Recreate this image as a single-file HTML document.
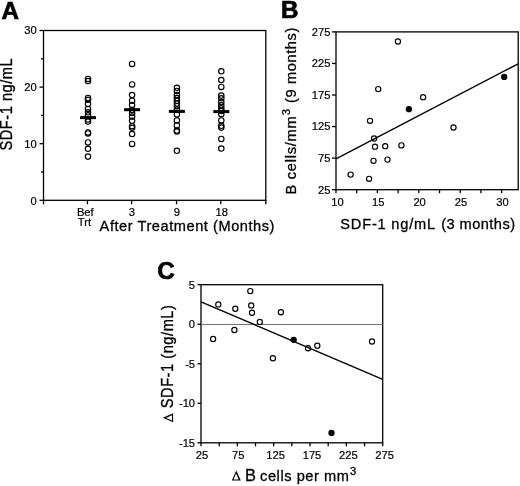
<!DOCTYPE html>
<html><head><meta charset="utf-8"><style>
html,body{margin:0;padding:0;background:#fff;}
svg{display:block;filter:grayscale(1);}
text{font-family:"Liberation Sans",sans-serif;fill:#000;stroke:#000;stroke-width:0.3px;}
text.t{stroke-width:0.2px;}
text.L{stroke-width:0.7px;}
</style></head><body>
<svg width="520" height="486" viewBox="0 0 520 486">
<rect width="520" height="486" fill="#fff"/>
<rect x="43.5" y="30.5" width="222.30" height="169.80" fill="none" stroke="#000" stroke-width="1.3"/>
<line x1="39.50" y1="200.30" x2="43.50" y2="200.30" stroke="#000" stroke-width="1.3"/>
<text class="t" x="36.80" y="204.60" font-size="11.2" text-anchor="end" font-weight="normal" >0</text>
<line x1="39.50" y1="143.70" x2="43.50" y2="143.70" stroke="#000" stroke-width="1.3"/>
<text class="t" x="36.80" y="147.60" font-size="11.2" text-anchor="end" font-weight="normal" >10</text>
<line x1="39.50" y1="87.10" x2="43.50" y2="87.10" stroke="#000" stroke-width="1.3"/>
<text class="t" x="36.80" y="91.00" font-size="11.2" text-anchor="end" font-weight="normal" >20</text>
<line x1="39.50" y1="30.50" x2="43.50" y2="30.50" stroke="#000" stroke-width="1.3"/>
<text class="t" x="36.80" y="34.40" font-size="11.2" text-anchor="end" font-weight="normal" >30</text>
<line x1="41.00" y1="172.00" x2="43.50" y2="172.00" stroke="#000" stroke-width="1.3"/>
<line x1="41.00" y1="115.40" x2="43.50" y2="115.40" stroke="#000" stroke-width="1.3"/>
<line x1="41.00" y1="58.80" x2="43.50" y2="58.80" stroke="#000" stroke-width="1.3"/>
<line x1="43.50" y1="200.30" x2="43.50" y2="204.30" stroke="#000" stroke-width="1.3"/>
<line x1="87.45" y1="200.30" x2="87.45" y2="204.30" stroke="#000" stroke-width="1.3"/>
<line x1="131.60" y1="200.30" x2="131.60" y2="204.30" stroke="#000" stroke-width="1.3"/>
<line x1="176.55" y1="200.30" x2="176.55" y2="204.30" stroke="#000" stroke-width="1.3"/>
<line x1="220.80" y1="200.30" x2="220.80" y2="204.30" stroke="#000" stroke-width="1.3"/>
<line x1="265.80" y1="200.30" x2="265.80" y2="204.30" stroke="#000" stroke-width="1.3"/>
<text class="t" x="76.90" y="216.10" font-size="11.2" text-anchor="start" font-weight="normal" >Bef</text>
<text class="t" x="77.80" y="225.70" font-size="11.2" text-anchor="start" font-weight="normal" >Trt</text>
<text class="t" x="131.90" y="216.10" font-size="11.2" text-anchor="middle" font-weight="normal" >3</text>
<text class="t" x="176.85" y="216.10" font-size="11.2" text-anchor="middle" font-weight="normal" >9</text>
<text class="t" x="221.80" y="216.10" font-size="11.2" text-anchor="middle" font-weight="normal" >18</text>
<text x="99.60" y="230.60" font-size="14.6" text-anchor="start" font-weight="normal" letter-spacing="0.55">After Treatment (Months)</text>
<text x="0" y="0" font-size="14.6" letter-spacing="0.55" transform="translate(12.1 150.6) rotate(-90) scale(1 1.13)">SDF-1 ng/mL</text>
<text class="L" x="1.50" y="18.60" font-size="24.2" text-anchor="start" font-weight="bold" >A</text>
<circle cx="88.00" cy="78.90" r="2.70" fill="none" stroke="#000" stroke-width="1.15"/>
<circle cx="88.00" cy="81.00" r="2.70" fill="none" stroke="#000" stroke-width="1.15"/>
<circle cx="88.00" cy="97.90" r="2.70" fill="none" stroke="#000" stroke-width="1.15"/>
<circle cx="88.00" cy="99.80" r="2.70" fill="none" stroke="#000" stroke-width="1.15"/>
<circle cx="88.00" cy="104.00" r="2.70" fill="none" stroke="#000" stroke-width="1.15"/>
<circle cx="88.00" cy="108.90" r="2.70" fill="none" stroke="#000" stroke-width="1.15"/>
<circle cx="88.00" cy="112.30" r="2.70" fill="none" stroke="#000" stroke-width="1.15"/>
<circle cx="88.00" cy="115.30" r="2.70" fill="none" stroke="#000" stroke-width="1.15"/>
<circle cx="88.00" cy="119.50" r="2.70" fill="none" stroke="#000" stroke-width="1.15"/>
<circle cx="88.00" cy="121.50" r="2.70" fill="none" stroke="#000" stroke-width="1.15"/>
<circle cx="88.00" cy="132.40" r="2.70" fill="none" stroke="#000" stroke-width="1.15"/>
<circle cx="88.00" cy="133.40" r="2.70" fill="none" stroke="#000" stroke-width="1.15"/>
<circle cx="88.00" cy="142.40" r="2.70" fill="none" stroke="#000" stroke-width="1.15"/>
<circle cx="88.00" cy="148.80" r="2.70" fill="none" stroke="#000" stroke-width="1.15"/>
<circle cx="88.00" cy="156.60" r="2.70" fill="none" stroke="#000" stroke-width="1.15"/>
<rect x="80.00" y="116.10" width="16" height="3" fill="#000"/>
<circle cx="132.10" cy="63.90" r="2.70" fill="none" stroke="#000" stroke-width="1.15"/>
<circle cx="132.10" cy="84.40" r="2.70" fill="none" stroke="#000" stroke-width="1.15"/>
<circle cx="132.10" cy="95.10" r="2.70" fill="none" stroke="#000" stroke-width="1.15"/>
<circle cx="132.10" cy="100.70" r="2.70" fill="none" stroke="#000" stroke-width="1.15"/>
<circle cx="132.10" cy="105.00" r="2.70" fill="none" stroke="#000" stroke-width="1.15"/>
<circle cx="132.10" cy="110.00" r="2.70" fill="none" stroke="#000" stroke-width="1.15"/>
<circle cx="132.10" cy="113.00" r="2.70" fill="none" stroke="#000" stroke-width="1.15"/>
<circle cx="132.10" cy="116.60" r="2.70" fill="none" stroke="#000" stroke-width="1.15"/>
<circle cx="132.10" cy="120.80" r="2.70" fill="none" stroke="#000" stroke-width="1.15"/>
<circle cx="132.10" cy="126.20" r="2.70" fill="none" stroke="#000" stroke-width="1.15"/>
<circle cx="132.10" cy="127.80" r="2.70" fill="none" stroke="#000" stroke-width="1.15"/>
<circle cx="132.10" cy="134.00" r="2.70" fill="none" stroke="#000" stroke-width="1.15"/>
<circle cx="132.10" cy="143.90" r="2.70" fill="none" stroke="#000" stroke-width="1.15"/>
<rect x="124.10" y="108.20" width="16" height="3" fill="#000"/>
<circle cx="176.90" cy="87.80" r="2.70" fill="none" stroke="#000" stroke-width="1.15"/>
<circle cx="176.90" cy="90.90" r="2.70" fill="none" stroke="#000" stroke-width="1.15"/>
<circle cx="176.90" cy="95.00" r="2.70" fill="none" stroke="#000" stroke-width="1.15"/>
<circle cx="176.90" cy="98.00" r="2.70" fill="none" stroke="#000" stroke-width="1.15"/>
<circle cx="176.90" cy="100.80" r="2.70" fill="none" stroke="#000" stroke-width="1.15"/>
<circle cx="176.90" cy="103.50" r="2.70" fill="none" stroke="#000" stroke-width="1.15"/>
<circle cx="176.90" cy="106.20" r="2.70" fill="none" stroke="#000" stroke-width="1.15"/>
<circle cx="176.90" cy="109.50" r="2.70" fill="none" stroke="#000" stroke-width="1.15"/>
<circle cx="176.90" cy="114.40" r="2.70" fill="none" stroke="#000" stroke-width="1.15"/>
<circle cx="176.90" cy="120.40" r="2.70" fill="none" stroke="#000" stroke-width="1.15"/>
<circle cx="176.90" cy="125.40" r="2.70" fill="none" stroke="#000" stroke-width="1.15"/>
<circle cx="176.90" cy="130.50" r="2.70" fill="none" stroke="#000" stroke-width="1.15"/>
<circle cx="176.90" cy="131.50" r="2.70" fill="none" stroke="#000" stroke-width="1.15"/>
<circle cx="176.90" cy="150.80" r="2.70" fill="none" stroke="#000" stroke-width="1.15"/>
<rect x="168.90" y="109.90" width="16" height="3" fill="#000"/>
<circle cx="221.30" cy="71.30" r="2.70" fill="none" stroke="#000" stroke-width="1.15"/>
<circle cx="221.30" cy="80.00" r="2.70" fill="none" stroke="#000" stroke-width="1.15"/>
<circle cx="221.30" cy="86.90" r="2.70" fill="none" stroke="#000" stroke-width="1.15"/>
<circle cx="221.30" cy="95.50" r="2.70" fill="none" stroke="#000" stroke-width="1.15"/>
<circle cx="221.30" cy="98.30" r="2.70" fill="none" stroke="#000" stroke-width="1.15"/>
<circle cx="221.30" cy="102.00" r="2.70" fill="none" stroke="#000" stroke-width="1.15"/>
<circle cx="221.30" cy="105.30" r="2.70" fill="none" stroke="#000" stroke-width="1.15"/>
<circle cx="221.30" cy="108.30" r="2.70" fill="none" stroke="#000" stroke-width="1.15"/>
<circle cx="221.30" cy="111.00" r="2.70" fill="none" stroke="#000" stroke-width="1.15"/>
<circle cx="221.30" cy="114.20" r="2.70" fill="none" stroke="#000" stroke-width="1.15"/>
<circle cx="221.30" cy="120.40" r="2.70" fill="none" stroke="#000" stroke-width="1.15"/>
<circle cx="221.30" cy="125.80" r="2.70" fill="none" stroke="#000" stroke-width="1.15"/>
<circle cx="221.30" cy="127.60" r="2.70" fill="none" stroke="#000" stroke-width="1.15"/>
<circle cx="221.30" cy="138.90" r="2.70" fill="none" stroke="#000" stroke-width="1.15"/>
<circle cx="221.30" cy="148.50" r="2.70" fill="none" stroke="#000" stroke-width="1.15"/>
<rect x="213.30" y="110.10" width="16" height="3" fill="#000"/>
<rect x="336.0" y="31.9" width="182.20" height="157.80" fill="none" stroke="#000" stroke-width="1.3"/>
<line x1="332.00" y1="189.70" x2="336.00" y2="189.70" stroke="#000" stroke-width="1.3"/>
<text class="t" x="330.40" y="193.60" font-size="11.2" text-anchor="end" font-weight="normal" >25</text>
<line x1="332.00" y1="158.14" x2="336.00" y2="158.14" stroke="#000" stroke-width="1.3"/>
<text class="t" x="330.40" y="162.04" font-size="11.2" text-anchor="end" font-weight="normal" >75</text>
<line x1="332.00" y1="126.58" x2="336.00" y2="126.58" stroke="#000" stroke-width="1.3"/>
<text class="t" x="330.40" y="130.48" font-size="11.2" text-anchor="end" font-weight="normal" >125</text>
<line x1="332.00" y1="95.02" x2="336.00" y2="95.02" stroke="#000" stroke-width="1.3"/>
<text class="t" x="330.40" y="98.92" font-size="11.2" text-anchor="end" font-weight="normal" >175</text>
<line x1="332.00" y1="63.46" x2="336.00" y2="63.46" stroke="#000" stroke-width="1.3"/>
<text class="t" x="330.40" y="67.36" font-size="11.2" text-anchor="end" font-weight="normal" >225</text>
<line x1="332.00" y1="31.90" x2="336.00" y2="31.90" stroke="#000" stroke-width="1.3"/>
<text class="t" x="330.40" y="35.80" font-size="11.2" text-anchor="end" font-weight="normal" >275</text>
<line x1="336.00" y1="189.70" x2="336.00" y2="193.20" stroke="#000" stroke-width="1.3"/>
<text class="t" x="337.50" y="206.30" font-size="11.2" text-anchor="middle" font-weight="normal" >10</text>
<line x1="356.70" y1="189.70" x2="356.70" y2="193.20" stroke="#000" stroke-width="1.3"/>
<line x1="377.41" y1="189.70" x2="377.41" y2="193.20" stroke="#000" stroke-width="1.3"/>
<text class="t" x="378.21" y="206.30" font-size="11.2" text-anchor="middle" font-weight="normal" >15</text>
<line x1="398.11" y1="189.70" x2="398.11" y2="193.20" stroke="#000" stroke-width="1.3"/>
<line x1="418.82" y1="189.70" x2="418.82" y2="193.20" stroke="#000" stroke-width="1.3"/>
<text class="t" x="419.62" y="206.30" font-size="11.2" text-anchor="middle" font-weight="normal" >20</text>
<line x1="439.52" y1="189.70" x2="439.52" y2="193.20" stroke="#000" stroke-width="1.3"/>
<line x1="460.23" y1="189.70" x2="460.23" y2="193.20" stroke="#000" stroke-width="1.3"/>
<text class="t" x="461.03" y="206.30" font-size="11.2" text-anchor="middle" font-weight="normal" >25</text>
<line x1="480.93" y1="189.70" x2="480.93" y2="193.20" stroke="#000" stroke-width="1.3"/>
<line x1="501.64" y1="189.70" x2="501.64" y2="193.20" stroke="#000" stroke-width="1.3"/>
<text class="t" x="502.44" y="206.30" font-size="11.2" text-anchor="middle" font-weight="normal" >30</text>
<text x="340.3" y="229.4" font-size="14.6" letter-spacing="0.8">SDF-1 ng/mL</text>
<text x="441.2" y="229.4" font-size="14.6" letter-spacing="0.45">(3 months)</text>
<text x="0" y="0" font-size="14.6" letter-spacing="0.77" transform="translate(296.0 194.6) rotate(-90)">B cells/mm<tspan font-size="11.2" dy="-6.3" dx="0.3">3</tspan><tspan dy="6.3" dx="0.6" letter-spacing="0.62"> (9 months)</tspan></text>
<text class="L" x="281.00" y="18.20" font-size="24.2" text-anchor="start" font-weight="bold" >B</text>
<line x1="336.00" y1="158.80" x2="518.20" y2="63.80" stroke="#000" stroke-width="1.4"/>
<circle cx="397.90" cy="41.50" r="2.60" fill="none" stroke="#000" stroke-width="1.15"/>
<circle cx="378.20" cy="89.10" r="2.60" fill="none" stroke="#000" stroke-width="1.15"/>
<circle cx="423.10" cy="97.20" r="2.60" fill="none" stroke="#000" stroke-width="1.15"/>
<circle cx="370.00" cy="120.80" r="2.60" fill="none" stroke="#000" stroke-width="1.15"/>
<circle cx="374.10" cy="138.50" r="2.60" fill="none" stroke="#000" stroke-width="1.15"/>
<circle cx="375.00" cy="146.70" r="2.60" fill="none" stroke="#000" stroke-width="1.15"/>
<circle cx="385.20" cy="146.20" r="2.60" fill="none" stroke="#000" stroke-width="1.15"/>
<circle cx="401.40" cy="145.40" r="2.60" fill="none" stroke="#000" stroke-width="1.15"/>
<circle cx="373.50" cy="160.80" r="2.60" fill="none" stroke="#000" stroke-width="1.15"/>
<circle cx="387.50" cy="159.60" r="2.60" fill="none" stroke="#000" stroke-width="1.15"/>
<circle cx="350.60" cy="174.60" r="2.60" fill="none" stroke="#000" stroke-width="1.15"/>
<circle cx="369.10" cy="178.80" r="2.60" fill="none" stroke="#000" stroke-width="1.15"/>
<circle cx="453.50" cy="127.50" r="2.60" fill="none" stroke="#000" stroke-width="1.15"/>
<circle cx="408.90" cy="109.20" r="3.15" fill="#000"/>
<circle cx="504.20" cy="76.90" r="3.15" fill="#000"/>
<rect x="201.0" y="284.7" width="181.70" height="158.10" fill="none" stroke="#000" stroke-width="1.3"/>
<line x1="201.00" y1="324.45" x2="382.70" y2="324.45" stroke="#707070" stroke-width="1.0"/>
<line x1="197.50" y1="284.70" x2="201.00" y2="284.70" stroke="#000" stroke-width="1.3"/>
<text class="t" x="195.10" y="288.60" font-size="11.2" text-anchor="end" font-weight="normal" >5</text>
<line x1="197.50" y1="324.23" x2="201.00" y2="324.23" stroke="#000" stroke-width="1.3"/>
<text class="t" x="195.10" y="328.12" font-size="11.2" text-anchor="end" font-weight="normal" >0</text>
<line x1="197.50" y1="363.75" x2="201.00" y2="363.75" stroke="#000" stroke-width="1.3"/>
<text class="t" x="195.10" y="367.65" font-size="11.2" text-anchor="end" font-weight="normal" >-5</text>
<line x1="197.50" y1="403.27" x2="201.00" y2="403.27" stroke="#000" stroke-width="1.3"/>
<text class="t" x="195.10" y="407.17" font-size="11.2" text-anchor="end" font-weight="normal" >-10</text>
<line x1="197.50" y1="442.80" x2="201.00" y2="442.80" stroke="#000" stroke-width="1.3"/>
<text class="t" x="195.10" y="446.70" font-size="11.2" text-anchor="end" font-weight="normal" >-15</text>
<line x1="201.00" y1="442.80" x2="201.00" y2="446.30" stroke="#000" stroke-width="1.3"/>
<text class="t" x="202.00" y="459.20" font-size="11.2" text-anchor="middle" font-weight="normal" >25</text>
<line x1="219.17" y1="442.80" x2="219.17" y2="446.30" stroke="#000" stroke-width="1.3"/>
<line x1="237.34" y1="442.80" x2="237.34" y2="446.30" stroke="#000" stroke-width="1.3"/>
<text class="t" x="238.34" y="459.20" font-size="11.2" text-anchor="middle" font-weight="normal" >75</text>
<line x1="255.51" y1="442.80" x2="255.51" y2="446.30" stroke="#000" stroke-width="1.3"/>
<line x1="273.68" y1="442.80" x2="273.68" y2="446.30" stroke="#000" stroke-width="1.3"/>
<text class="t" x="275.68" y="459.20" font-size="11.2" text-anchor="middle" font-weight="normal" >125</text>
<line x1="291.85" y1="442.80" x2="291.85" y2="446.30" stroke="#000" stroke-width="1.3"/>
<line x1="310.02" y1="442.80" x2="310.02" y2="446.30" stroke="#000" stroke-width="1.3"/>
<text class="t" x="312.02" y="459.20" font-size="11.2" text-anchor="middle" font-weight="normal" >175</text>
<line x1="328.19" y1="442.80" x2="328.19" y2="446.30" stroke="#000" stroke-width="1.3"/>
<line x1="346.36" y1="442.80" x2="346.36" y2="446.30" stroke="#000" stroke-width="1.3"/>
<text class="t" x="348.36" y="459.20" font-size="11.2" text-anchor="middle" font-weight="normal" >225</text>
<line x1="364.53" y1="442.80" x2="364.53" y2="446.30" stroke="#000" stroke-width="1.3"/>
<line x1="382.70" y1="442.80" x2="382.70" y2="446.30" stroke="#000" stroke-width="1.3"/>
<text class="t" x="384.70" y="459.20" font-size="11.2" text-anchor="middle" font-weight="normal" >275</text>
<text x="245.1" y="480.7" font-size="16.4">B</text>
<text x="260.1" y="481.0" font-size="14.6" letter-spacing="0.55">cells per mm<tspan font-size="11.2" dy="-6.5" dx="0.5">3</tspan></text>
<path d="M231.8 480.6 L236.3 470.4 L240.8 480.6 Z M233.5 479.5 L236.1 473.5 L238.7 479.5 Z" fill="#000" fill-rule="evenodd"/>
<text x="0" y="0" font-size="14.6" letter-spacing="0.55" transform="translate(172.9 408.2) rotate(-90) scale(1 1.13)">SDF-1 (ng/mL)</text>
<path d="M173.1 422.2 L162.9 417.7 L173.1 413.2 Z M172.0 420.5 L166.0 417.9 L172.0 415.3 Z" fill="#000" fill-rule="evenodd"/>
<text class="L" x="157.20" y="278.70" font-size="24.2" text-anchor="start" font-weight="bold" >C</text>
<line x1="201.00" y1="301.80" x2="382.70" y2="379.30" stroke="#000" stroke-width="1.4"/>
<circle cx="250.30" cy="291.10" r="2.60" fill="none" stroke="#000" stroke-width="1.15"/>
<circle cx="218.30" cy="304.40" r="2.60" fill="none" stroke="#000" stroke-width="1.15"/>
<circle cx="235.30" cy="308.70" r="2.60" fill="none" stroke="#000" stroke-width="1.15"/>
<circle cx="251.20" cy="305.40" r="2.60" fill="none" stroke="#000" stroke-width="1.15"/>
<circle cx="252.00" cy="312.70" r="2.60" fill="none" stroke="#000" stroke-width="1.15"/>
<circle cx="280.90" cy="312.20" r="2.60" fill="none" stroke="#000" stroke-width="1.15"/>
<circle cx="259.80" cy="321.90" r="2.60" fill="none" stroke="#000" stroke-width="1.15"/>
<circle cx="234.40" cy="330.00" r="2.60" fill="none" stroke="#000" stroke-width="1.15"/>
<circle cx="213.10" cy="339.00" r="2.60" fill="none" stroke="#000" stroke-width="1.15"/>
<circle cx="308.00" cy="348.20" r="2.60" fill="none" stroke="#000" stroke-width="1.15"/>
<circle cx="317.30" cy="345.80" r="2.60" fill="none" stroke="#000" stroke-width="1.15"/>
<circle cx="372.00" cy="341.50" r="2.60" fill="none" stroke="#000" stroke-width="1.15"/>
<circle cx="272.90" cy="358.20" r="2.60" fill="none" stroke="#000" stroke-width="1.15"/>
<circle cx="293.70" cy="339.80" r="3.15" fill="#000"/>
<circle cx="331.50" cy="433.00" r="3.15" fill="#000"/>
</svg>
</body></html>
